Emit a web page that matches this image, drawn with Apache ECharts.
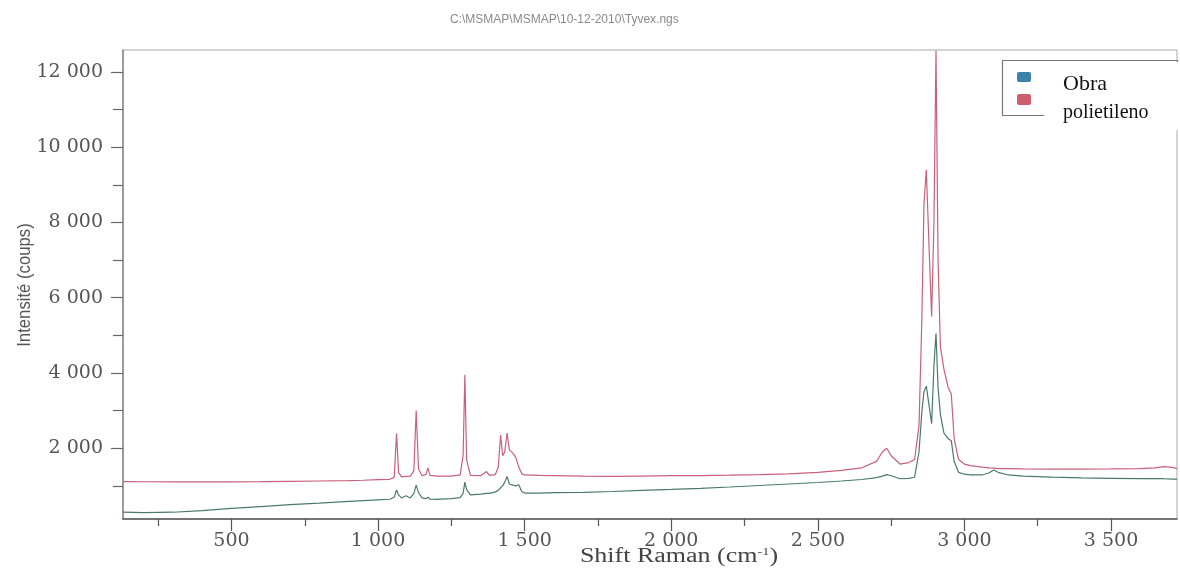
<!DOCTYPE html>
<html><head><meta charset="utf-8">
<script src="https://cdn.jsdelivr.net/npm/echarts@6/dist/echarts.min.js"></script>
<style>html,body{margin:0;padding:0;background:#fff}#c{width:1180px;height:572px}</style>
</head><body><div id="c"></div>
<script>
// Raman shift (cm-1)
const shift = [130,200,300,400,500,600,700,800,900,950,1000,1040,1055,1063,1070,1080,1095,1110,1122,1130,1138,1150,1163,1170,1177,1200,1250,1280,1290,1296,1302,1315,1350,1370,1380,1400,1410,1418,1425,1432,1440,1448,1460,1470,1480,1490,1500,1550,1600,1700,1800,1900,2000,2100,2200,2300,2400,2500,2580,2650,2700,2720,2735,2750,2780,2810,2830,2845,2855,2862,2870,2880,2888,2896,2903,2910,2918,2930,2945,2955,2965,2980,3000,3020,3060,3085,3100,3115,3150,3200,3300,3400,3500,3600,3650,3680,3710,3725];
// Intensité (coups) – Obra
const obra = [300,290,300,340,400,450,500,540,590,610,630,645,700,890,760,680,740,680,800,1020,820,680,660,700,650,640,660,690,800,1100,900,760,780,800,800,840,880,950,1000,1100,1250,1050,1020,1000,1030,850,810,810,820,830,850,880,905,935,970,1010,1050,1090,1130,1170,1220,1260,1300,1270,1190,1200,1230,1900,3000,3500,3650,3100,2650,4200,5050,3600,2900,2400,2250,2200,1650,1360,1310,1290,1290,1350,1420,1360,1290,1260,1230,1210,1200,1190,1190,1190,1180,1180];
// Intensité (coups) – polietileno
const polietileno = [1113,1110,1105,1105,1108,1112,1120,1130,1140,1150,1165,1175,1230,2400,1350,1240,1250,1260,1400,3000,1450,1270,1300,1480,1280,1260,1260,1290,1800,3950,1700,1280,1270,1380,1280,1300,1500,2350,1800,1900,2400,1950,1870,1750,1500,1320,1290,1280,1275,1260,1250,1260,1270,1275,1285,1300,1320,1360,1410,1480,1650,1900,2000,1800,1580,1620,1700,2600,5500,8500,9400,7200,5500,8000,12560,7000,4700,4100,3600,3450,2250,1700,1580,1540,1500,1480,1470,1460,1460,1450,1445,1445,1450,1460,1480,1510,1490,1460];
const seriesNames = ['Obra', 'polietileno'];
const seriesColors = ['#4b7a6c', '#c8607a'];
const legendColors = ['#3d80a8', '#cc5f6b'];
const xLabelValues = [500,1000,1500,2000,2500,3000,3500];
const xMinorTicks = [250,750,1250,1750,2250,2750,3250];
const yLabelValues = [2000,4000,6000,8000,10000,12000];
const yMinorTicks = [1000,3000,5000,7000,9000,11000];
const titleText = 'C:\\MSMAP\\MSMAP\\10-12-2010\\Tyvex.ngs';

function fmt(v){ return v >= 1000 ? Math.floor(v/1000) + ' ' + String(v % 1000).padStart(3,'0') : String(v); }

const chart = echarts.init(document.getElementById('c'), null, {renderer:'canvas'});
const labelStyle = {fontFamily:'DejaVu Serif', fontSize:19, color:'#555'};
const xBase = {type:'value', min:130, max:3725, position:'bottom', splitLine:{show:false}};
const yBase = {type:'value', min:120, max:12580, position:'left', splitLine:{show:false}};

chart.setOption({
  animation:false,
  backgroundColor:'#fff',
  title:{text:titleText, left:445, top:9, textStyle:{fontFamily:'Liberation Sans', fontSize:12, fontWeight:'normal', color:'#8a8a8a'}},
  grid:{left:123, right:3, top:50, bottom:53, show:true, borderColor:'#aaa', borderWidth:1},
  xAxis:[
    Object.assign({}, xBase, {
      axisLine:{show:true, lineStyle:{color:'#555', width:1.5}},
      axisTick:{show:true, customValues:xLabelValues, length:12, lineStyle:{color:'#555', width:1.2}},
      axisLabel:Object.assign({customValues:xLabelValues, formatter:fmt, margin:13}, labelStyle)
    }),
    Object.assign({}, xBase, {
      axisLine:{show:false},
      axisTick:{show:true, customValues:xMinorTicks, length:7, lineStyle:{color:'#555', width:1.2}},
      axisLabel:{show:false}
    })
  ],
  yAxis:[
    Object.assign({}, yBase, {
      axisLine:{show:true, lineStyle:{color:'#888', width:1.5}},
      axisTick:{show:true, customValues:yLabelValues, length:12, lineStyle:{color:'#666', width:1.2}},
      axisLabel:Object.assign({customValues:yLabelValues, formatter:fmt, margin:20}, labelStyle)
    }),
    Object.assign({}, yBase, {
      axisLine:{show:false},
      axisTick:{show:true, customValues:yMinorTicks, length:10, lineStyle:{color:'#666', width:1.2}},
      axisLabel:{show:false}
    })
  ],
  series:[
    {name:seriesNames[0], type:'line', xAxisIndex:0, yAxisIndex:0, showSymbol:false, clip:true,
     lineStyle:{width:1.2, color:seriesColors[0]}, itemStyle:{color:seriesColors[0]},
     data:shift.map((x,i)=>[x, obra[i]]), z:3},
    {name:seriesNames[1], type:'line', xAxisIndex:0, yAxisIndex:0, showSymbol:false, clip:true,
     lineStyle:{width:1.2, color:seriesColors[1]}, itemStyle:{color:seriesColors[1]},
     data:shift.map((x,i)=>[x, polietileno[i]]), z:2}
  ],
  graphic:[
    {type:'rect', shape:{x:1002.5, y:60.5, width:175, height:55}, style:{fill:'#fff', stroke:'#777', lineWidth:1.2}, z:10},
    {type:'rect', shape:{x:1044, y:62, width:135, height:68}, style:{fill:'#fff'}, z:11},
    {type:'rect', shape:{x:1017, y:72, width:14, height:10, r:2}, style:{fill:legendColors[0]}, z:12},
    {type:'rect', shape:{x:1017, y:94, width:14, height:11, r:2}, style:{fill:legendColors[1]}, z:12},
    {type:'text', x:1063, y:84, style:{text:seriesNames[0], fontFamily:'Liberation Serif', fontSize:22, fill:'#111', align:'left', verticalAlign:'middle'}, z:12},
    {type:'text', x:1063, y:113, style:{text:seriesNames[1], fontFamily:'Liberation Serif', fontSize:20, fill:'#111', align:'left', verticalAlign:'middle'}, z:12},
    {type:'text', x:25, y:285, rotation:Math.PI/2, scaleX:0.88,
     style:{text:'Intensité (coups)', fontFamily:'Liberation Sans', fontSize:19, fill:'#555', align:'center', verticalAlign:'middle'}, z:12},
    {type:'text', x:679, y:557, scaleX:1.3,
     style:{text:'{a|Shift Raman (cm}{b|-1}{a|)}', align:'center', verticalAlign:'middle', fill:'#444',
       rich:{a:{fontFamily:'Liberation Serif', fontSize:20, fill:'#444'}, b:{fontFamily:'Liberation Serif', fontSize:11, fill:'#444', padding:[0,0,10,0]}}}, z:12}
  ]
});
</script></body></html>
